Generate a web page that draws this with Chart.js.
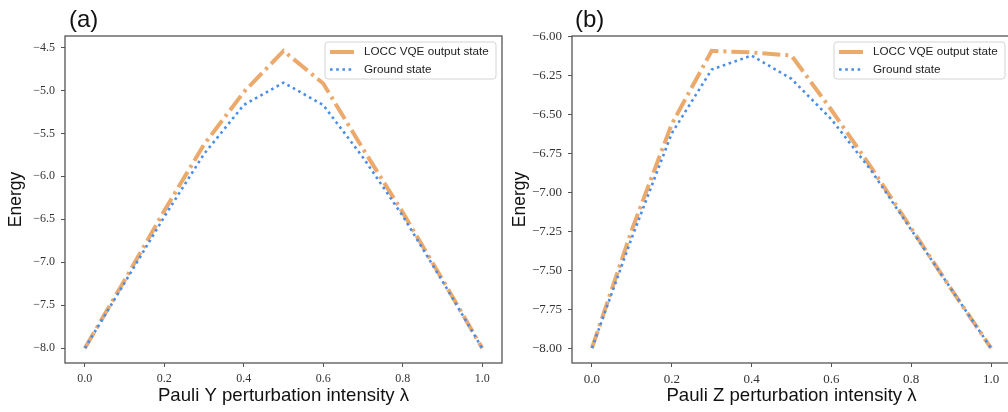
<!DOCTYPE html>
<html>
<head>
<meta charset="utf-8">
<script src="https://cdn.jsdelivr.net/npm/chart.js@4.4.1/dist/chart.umd.min.js"></script>
<style>
  html, body { margin: 0; padding: 0; background: #fff; overflow: hidden; }
  #wrap { position: relative; width: 1008px; height: 412px; overflow: hidden; }
  canvas { position: absolute; top: 0; }
  #chartA { left: 0; }
  #chartB { left: 504px; }
  .panel-label {
    position: absolute;
    font-family: "Liberation Sans", Arial, sans-serif;
    font-size: 24px;
    line-height: 1;
    color: #111;
  }
</style>
</head>
<body>
<div id="wrap">
  <canvas id="chartA" width="504" height="412" style="width:504px;height:412px"></canvas>
  <canvas id="chartB" width="512" height="412" style="width:512px;height:412px"></canvas>
  <div class="panel-label" style="left:69px;top:7px">(a)</div>
  <div class="panel-label" style="left:575px;top:7px">(b)</div>
</div>
<script>
// perturbation intensity (shared x values)
const lambdas = [0.0, 0.1, 0.2, 0.3, 0.4, 0.5, 0.6, 0.7, 0.8, 0.9, 1.0];

// (a) Pauli Y
const loccY   = [-8.0, -7.21, -6.40, -5.63, -5.02, -4.54, -4.92, -5.68, -6.42, -7.20, -8.0];
const groundY = [-8.0, -7.24, -6.47, -5.74, -5.17, -4.91, -5.17, -5.78, -6.46, -7.22, -8.0];

// (b) Pauli Z
const loccZ   = [-8.0, -7.24, -6.56, -6.09, -6.10, -6.12, -6.47, -6.84, -7.23, -7.62, -8.0];
const groundZ = [-8.0, -7.29, -6.62, -6.21, -6.12, -6.27, -6.53, -6.86, -7.24, -7.62, -8.0];

const xTicks  = [0.0, 0.2, 0.4, 0.6, 0.8, 1.0];
const yTicksA = [-8.0, -7.5, -7.0, -6.5, -6.0, -5.5, -5.0, -4.5];
const yTicksB = [-8.0, -7.75, -7.5, -7.25, -7.0, -6.75, -6.5, -6.25, -6.0];

const seriesLabels = ["LOCC VQE output state", "Ground state"];
const xTitles = ["Pauli Y perturbation intensity \u03bb", "Pauli Z perturbation intensity \u03bb"];

const SANS = '"Liberation Sans", Arial, sans-serif';
const SERIF = '"Liberation Serif", "Times New Roman", serif';
const ORANGE = "#eba96c";
const BLUE = "#4a8de6";

// draws the full box around the plot and the legend inside it
const boxPlugin = {
  id: "boxLegend",
  afterDraw(chart, args, opts) {
    const ctx = chart.ctx;
    const a = chart.chartArea;
    ctx.save();
    ctx.strokeStyle = "#555";
    ctx.lineWidth = 1.3;
    ctx.strokeRect(a.left, a.top, a.right - a.left, a.bottom - a.top);

    const w = opts.width, h = 37;
    const x0 = a.right - opts.inset - w;
    const y0 = a.top + 6;
    ctx.beginPath();
    ctx.roundRect(x0, y0, w, h, 3);
    ctx.fillStyle = "rgba(255,255,255,0.85)";
    ctx.fill();
    ctx.strokeStyle = "#d4d4d4";
    ctx.lineWidth = 1;
    ctx.stroke();

    chart.data.datasets.forEach((ds, i) => {
      const yy = y0 + 10 + i * 17.5;
      // the dash-dot sample is short enough to show as one long dash
      ctx.setLineDash(i === 0 ? [] : ds.borderDash);
      ctx.lineCap = "butt";
      ctx.strokeStyle = ds.borderColor;
      ctx.lineWidth = ds.borderWidth;
      ctx.beginPath();
      ctx.moveTo(x0 + 5, yy);
      ctx.lineTo(x0 + 29, yy);
      ctx.stroke();
      ctx.setLineDash([]);
      ctx.fillStyle = "#222";
      ctx.font = "11.7px " + SANS;
      ctx.textBaseline = "middle";
      ctx.fillText(ds.label, x0 + 39, yy);
    });
    ctx.restore();
  }
};

function makeChart(id, locc, ground, yTicks, yMin, yMax, decimals, xTitle, yWidth, padRight, tickSize) {
  const axisGrid = { drawOnChartArea: false, drawTicks: true, tickLength: 4, color: "#555", lineWidth: 1 };
  return new Chart(document.getElementById(id), {
    type: "line",
    data: {
      datasets: [
        {
          label: seriesLabels[0],
          data: lambdas.map((x, i) => ({ x: x, y: locc[i] })),
          borderColor: ORANGE,
          borderWidth: 4,
          borderDash: [18, 5, 3, 5],
          borderCapStyle: "butt",
          pointRadius: 0,
          tension: 0,
          order: 1
        },
        {
          label: seriesLabels[1],
          data: lambdas.map((x, i) => ({ x: x, y: ground[i] })),
          borderColor: BLUE,
          borderWidth: 2.6,
          borderDash: [2.6, 3.6],
          borderCapStyle: "butt",
          pointRadius: 0,
          tension: 0,
          order: 0
        }
      ]
    },
    options: {
      responsive: false,
      animation: false,
      events: [],
      layout: { padding: { top: 36, right: padRight, left: 0, bottom: 0 } },
      plugins: {
        legend: { display: false },
        tooltip: { enabled: false },
        boxLegend: { width: 171, inset: 6 }
      },
      scales: {
        x: {
          type: "linear",
          min: -0.05,
          max: 1.05,
          afterFit: s => { s.height = 49; },
          afterBuildTicks: s => { s.ticks = xTicks.map(v => ({ value: v })); },
          ticks: {
            callback: v => v.toFixed(1),
            font: { family: SERIF, size: tickSize },
            color: "#333",
            padding: 5,
            maxRotation: 0,
            autoSkip: false
          },
          grid: axisGrid,
          border: { display: false },
          title: {
            display: true,
            text: xTitle,
            font: { family: SANS, size: 18.6 },
            color: "#111",
            padding: { top: 0, bottom: 5 }
          }
        },
        y: {
          type: "linear",
          min: yMin,
          max: yMax,
          afterFit: s => { s.width = yWidth; },
          afterBuildTicks: s => { s.ticks = yTicks.map(v => ({ value: v })); },
          ticks: {
            callback: v => "\u2212" + Math.abs(v).toFixed(decimals),
            font: { family: SERIF, size: tickSize },
            color: "#333",
            padding: 6,
            autoSkip: false
          },
          grid: axisGrid,
          border: { display: false },
          title: {
            display: true,
            text: "Energy",
            font: { family: SANS, size: 17.5 },
            color: "#111",
            padding: { top: 6, bottom: 0 }
          }
        }
      }
    },
    plugins: [boxPlugin]
  });
}

makeChart("chartA", loccY, groundY, yTicksA, -8.173, -4.367, 1, xTitles[0], 65, 2, 12);
makeChart("chartB", loccZ, groundZ, yTicksB, -8.0955, -5.9945, 2, xTitles[1], 68, 5, 13);
</script>
</body>
</html>
